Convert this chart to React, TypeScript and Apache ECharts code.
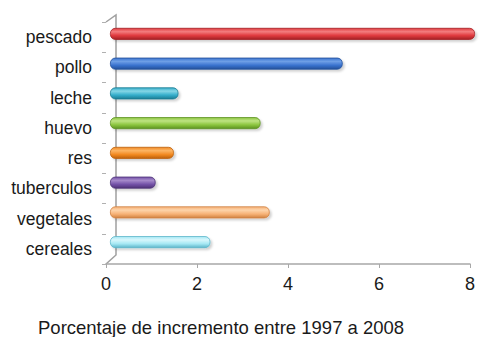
import React, { useEffect, useRef } from "react";
import * as echarts from "echarts";

// Food groups, top to bottom
const categories = ["pescado", "pollo", "leche", "huevo", "res", "tuberculos", "vegetales", "cereales"];
// Percentage increase 1997–2008
const values = [8.0, 5.1, 1.5, 3.3, 1.4, 1.0, 3.5, 2.2];
const xTicks = [0, 2, 4, 6, 8];
const axisTitle = "Porcentaje de incremento entre 1997 a 2008";

// [highlight, base, shade] per bar
const palette: [string, string, string][] = [
  ["#f37d7f", "#e03a3e", "#a42226"],
  ["#6f9fe6", "#3a73cf", "#23509a"],
  ["#86d6e6", "#35aecb", "#1d7c93"],
  ["#bfe383", "#8cc63f", "#5d9222"],
  ["#fcb565", "#f28a22", "#bd620d"],
  ["#a68aca", "#7452a8", "#4e3377"],
  ["#fdd4ab", "#f7b276", "#d08241"],
  ["#d8f7fc", "#a5e8f3", "#5cb5c9"],
];

const FONT = "'Liberation Sans', Arial, sans-serif";

export default function App() {
  const ref = useRef<HTMLDivElement>(null);

  useEffect(() => {
    if (!ref.current) return;
    const chart = echarts.init(ref.current, undefined, { renderer: "svg" });

    const barData = values.map((v, i) => {
      const [hi, base, dark] = palette[i];
      return {
        value: v,
        itemStyle: {
          color: new echarts.graphic.LinearGradient(0, 0, 0, 1, [
            { offset: 0, color: base },
            { offset: 0.3, color: hi },
            { offset: 0.65, color: base },
            { offset: 1, color: dark },
          ]),
          borderColor: dark,
          borderWidth: 0.8,
          borderRadius: 5,
          shadowColor: "rgba(0,0,0,0.18)",
          shadowBlur: 2,
          shadowOffsetX: 2,
          shadowOffsetY: 2,
        },
      };
    });

    chart.setOption({
      animation: false,
      backgroundColor: "#ffffff",
      title: {
        text: axisTitle,
        left: 33,
        top: 313,
        textStyle: { fontFamily: FONT, fontSize: 18.5, fontWeight: "normal", color: "#1a1a1a" },
      },
      grid: [
        // front edge / floor of the plot
        { left: 106, right: 9, top: 22, bottom: 73 },
        // bars, set back by half the depth
        { left: 110, right: 4, top: 19, bottom: 80 },
      ],
      xAxis: [
        {
          type: "value",
          gridIndex: 0,
          min: 0,
          max: 8,
          interval: 2,
          data: xTicks,
          axisLine: { show: true, lineStyle: { color: "#a8a8a8", width: 1.5 } },
          axisTick: { show: true, length: 4, lineStyle: { color: "#a8a8a8" } },
          axisLabel: { margin: 11, fontFamily: FONT, fontSize: 18, color: "#1a1a1a" },
          splitLine: { show: false },
        },
        {
          type: "value",
          gridIndex: 1,
          min: 0,
          max: 8,
          show: false,
          splitLine: { show: false },
        },
      ],
      yAxis: [
        {
          type: "category",
          gridIndex: 0,
          inverse: true,
          data: categories,
          axisLine: { show: false },
          axisTick: { show: true, length: 4, inside: false, lineStyle: { color: "#b0b0b0" } },
          axisLabel: { margin: 14, fontFamily: FONT, fontSize: 17.5, color: "#1a1a1a" },
        },
        {
          type: "category",
          gridIndex: 1,
          inverse: true,
          data: categories,
          show: false,
        },
      ],
      series: [
        {
          type: "bar",
          xAxisIndex: 1,
          yAxisIndex: 1,
          barWidth: 12,
          data: barData,
        },
      ],
      graphic: [
        {
          type: "polyline",
          shape: { points: [[106, 22], [116, 15], [116, 255], [106, 264]] },
          style: { stroke: "#a0a0a0", lineWidth: 1.5, fill: "none" },
          z: 0,
        },
      ],
    });

    return () => chart.dispose();
  }, []);

  return (
    <div
      ref={ref}
      style={{ position: "fixed", left: 0, top: 0, width: 479, height: 337 }}
    />
  );
}
